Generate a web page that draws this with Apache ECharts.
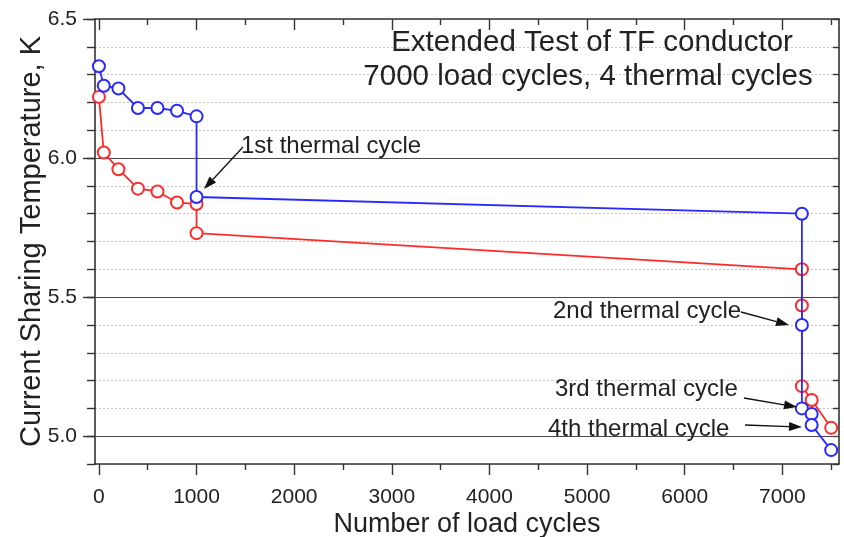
<!DOCTYPE html>
<html>
<head>
<meta charset="utf-8">
<script src="https://cdn.jsdelivr.net/npm/echarts@6/dist/echarts.min.js"></script>
<style>
html,body{margin:0;padding:0;background:#fff;}
#chart{width:844px;height:537px;}
</style>
</head>
<body>
<div id="chart"></div>
<script>
// ---- data ----
const redX  = [0, 50, 200, 400, 600, 800, 1000, 1000, 7200, 7200, 7200, 7300, 7500];
const redY  = [6.22, 6.02, 5.96, 5.89, 5.88, 5.84, 5.835, 5.73, 5.60, 5.47, 5.18, 5.13, 5.03];
const blueX = [0, 50, 200, 400, 600, 800, 1000, 1000, 7200, 7200, 7200, 7300, 7300, 7500];
const blueY = [6.33, 6.26, 6.25, 6.18, 6.18, 6.17, 6.15, 5.86, 5.80, 5.40, 5.10, 5.08, 5.04, 4.95];
const xMajorTicks = [0, 1000, 2000, 3000, 4000, 5000, 6000, 7000];
const xMinorTicks = [500, 1500, 2500, 3500, 4500, 5500, 6500, 7500];
const yMajorTicks = [5.0, 5.5, 6.0, 6.5];
const yMajorGrid = [5.0, 5.5, 6.0];
const titleLines = ['Extended Test of TF conductor', '7000 load cycles, 4 thermal cycles'];
const notes = ['1st thermal cycle', '2nd thermal cycle', '3rd thermal cycle', '4th thermal cycle'];

const FONT = '"Liberation Sans", Arial, Helvetica, sans-serif';
const TXT = '#222';
const AX = '#333';

const chart = echarts.init(document.getElementById('chart'), null, {renderer: 'canvas'});

const zip = (xs, ys) => xs.map((x, i) => [x, ys[i]]);

const xBase = {type: 'value', min: -40, max: 7580, gridIndex: 0, splitLine: {show: false}};
const yBase = {type: 'value', min: 4.9, max: 6.5, gridIndex: 0};

// annotation layout (pixels)
const noteLayout = [
  {x: 241, y: 145, from: [243, 147], to: [204, 189]},
  {x: 553, y: 310, from: [741, 312], to: [789, 325]},
  {x: 555, y: 388, from: [744, 398], to: [797, 407]},
  {x: 548, y: 428, from: [745, 425], to: [802, 427]}
];

const graphics = [];
titleLines.forEach((t, i) => {
  graphics.push({
    type: 'text', z: 10,
    style: {text: t, x: i === 0 ? 592 : 588, y: i === 0 ? 43 : 77, align: 'center', verticalAlign: 'middle',
            font: '29.5px ' + FONT, fill: TXT}
  });
});
notes.forEach((t, i) => {
  const L = noteLayout[i];
  graphics.push({
    type: 'text', z: 10,
    style: {text: t, x: L.x, y: L.y + 1, align: 'left', verticalAlign: 'middle', font: '24px ' + FONT, fill: TXT}
  });
  const dx = L.to[0] - L.from[0], dy = L.to[1] - L.from[1];
  const len = Math.hypot(dx, dy), ux = dx / len, uy = dy / len;
  const hl = 13, hw = 4.5;
  const bx = L.to[0] - ux * hl, by = L.to[1] - uy * hl;
  graphics.push({
    type: 'line', z: 10,
    shape: {x1: L.from[0], y1: L.from[1], x2: bx, y2: by},
    style: {stroke: '#111', lineWidth: 1.3}
  });
  graphics.push({
    type: 'polygon', z: 10,
    shape: {points: [[L.to[0], L.to[1]], [bx - uy * hw, by + ux * hw], [bx + uy * hw, by - ux * hw]]},
    style: {fill: '#111'}
  });
});

const option = {
  animation: false,
  backgroundColor: '#fff',
  grid: {left: 95, right: 5, top: 19, bottom: 73, containLabel: false, outerBoundsMode: 'none', show: false},
  xAxis: [
    Object.assign({}, xBase, {
      position: 'bottom',
      name: 'Number of load cycles', nameLocation: 'middle', nameGap: 47, nameMoveOverlap: false,
      nameTextStyle: {fontSize: 27, fontFamily: FONT, color: TXT},
      axisLine: {show: true, onZero: false, lineStyle: {color: AX, width: 1.6}},
      axisTick: {show: true, inside: false, length: 11, customValues: xMajorTicks, lineStyle: {color: AX, width: 1.4}},
      axisLabel: {show: true, customValues: xMajorTicks, margin: 23, fontSize: 21, fontFamily: FONT, color: TXT,
        formatter: v => String(v)}
    }),
    Object.assign({}, xBase, {
      position: 'bottom',
      axisLine: {show: false, onZero: false},
      axisTick: {show: true, inside: false, length: 6, customValues: xMinorTicks, lineStyle: {color: AX, width: 1.4}},
      axisLabel: {show: false}
    }),
    Object.assign({}, xBase, {
      position: 'top',
      axisLine: {show: true, onZero: false, lineStyle: {color: AX, width: 1.6}},
      axisTick: {show: true, inside: true, length: 11, customValues: xMajorTicks, lineStyle: {color: AX, width: 1.4}},
      axisLabel: {show: false}
    }),
    Object.assign({}, xBase, {
      position: 'top',
      axisLine: {show: false, onZero: false},
      axisTick: {show: true, inside: true, length: 6, customValues: xMinorTicks, lineStyle: {color: AX, width: 1.4}},
      axisLabel: {show: false}
    })
  ],
  yAxis: [
    Object.assign({}, yBase, {
      position: 'left', interval: 0.1,
      name: 'Current Sharing Temperature, K', nameLocation: 'middle', nameGap: 49, nameMoveOverlap: false,
      nameTextStyle: {fontSize: 29, fontFamily: FONT, color: TXT},
      axisLine: {show: true, onZero: false, lineStyle: {color: AX, width: 1.6}},
      axisTick: {show: true, inside: false, length: 8, lineStyle: {color: AX, width: 1.4}},
      axisLabel: {show: true, margin: 18, fontSize: 21, fontFamily: FONT, color: TXT,
        formatter: v => yMajorTicks.some(t => Math.abs(t - v) < 1e-6) ? v.toFixed(1) : ''},
      splitLine: {show: true, lineStyle: {color: '#c4c4c4', width: 1, type: [2, 2]}}
    }),
    Object.assign({}, yBase, {
      position: 'left',
      axisLine: {show: false, onZero: false},
      axisTick: {show: true, inside: false, length: 12, customValues: yMajorTicks, lineStyle: {color: AX, width: 1.4}},
      axisLabel: {show: false},
      splitLine: {show: false}
    }),
    Object.assign({}, yBase, {
      position: 'right', interval: 0.1,
      axisLine: {show: true, onZero: false, lineStyle: {color: AX, width: 1.6}},
      axisTick: {show: true, inside: true, length: 6, lineStyle: {color: AX, width: 1.4}},
      axisLabel: {show: false},
      splitLine: {show: false}
    })
  ],
  series: [
    {
      type: 'line', name: 'grid', xAxisIndex: 0, yAxisIndex: 0, data: [], z: 1, silent: true,
      markLine: {
        silent: true, symbol: 'none', z: 1, animation: false,
        label: {show: false},
        lineStyle: {color: '#4a4a4a', width: 1.2, type: 'solid'},
        data: yMajorGrid.map(v => ({yAxis: v}))
      }
    },
    {
      type: 'line', name: 'red', xAxisIndex: 0, yAxisIndex: 0, z: 3,
      data: zip(redX, redY),
      symbol: 'circle', symbolSize: 12, showAllSymbol: true,
      lineStyle: {color: '#ff2a2a', width: 1.8},
      itemStyle: {color: '#fff', borderColor: '#ff2a2a', borderWidth: 2}
    },
    {
      type: 'line', name: 'blue', xAxisIndex: 0, yAxisIndex: 0, z: 4,
      data: zip(blueX, blueY),
      symbol: 'circle', symbolSize: 12, showAllSymbol: true,
      lineStyle: {color: '#2a2aff', width: 1.8},
      itemStyle: {color: '#fff', borderColor: '#2a2aff', borderWidth: 2}
    }
  ],
  graphic: graphics
};
chart.setOption(option);
</script>
</body>
</html>
